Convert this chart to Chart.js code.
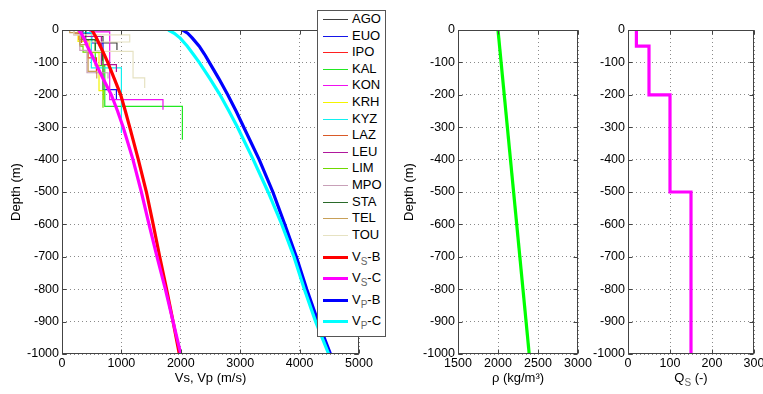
<!DOCTYPE html>
<html>
<head>
<meta charset="utf-8">
<script src="https://cdn.jsdelivr.net/npm/chart.js@4.4.0/dist/chart.umd.min.js"></script>
<style>
  body { margin:0; background:#fff; overflow:hidden; width:763px; height:394px; position:relative;
         font-family:'Liberation Sans', Arial, Helvetica, sans-serif; }
  canvas { position:absolute; top:0; }
  #legend { position:absolute; left:317px; top:10px; width:67px; height:325px; border:1px solid #555; background:#fff; }
  .row { position:absolute; left:0; width:67px; height:16px; line-height:16px; font-size:13px; color:#000; }
  .row b { position:absolute; left:5px; width:25px; display:block; }
  .row .t { position:absolute; left:34px; white-space:nowrap; }
  .sb { font-size:10px; position:relative; top:4px; color:#666; }
  #qtitle { position:absolute; left:651px; width:80px; top:370px; text-align:center; font-size:13px; line-height:16px; }
</style>
</head>
<body>
<canvas id="cv_vel" width="385" height="394" style="left:0;width:385px;height:394px"></canvas>
<canvas id="cv_rho" width="200" height="394" style="left:395px;width:200px;height:394px"></canvas>
<canvas id="cv_qs" width="185" height="394" style="left:585px;width:185px;height:394px"></canvas>
<div id="legend"></div>
<div id="qtitle">Q<span class="sb">S</span> (-)</div>
<script>
// station profiles: layer boundaries (m) and layer Vs (m/s)
const stationNames = ['AGO','EUO','IPO','KAL','KON','KRH','KYZ','LAZ','LEU','LIM','MPO','STA','TEL','TOU'];
const depthAGO = [0, 20, 40, 62];           const vsAGO = [400, 690, 925];
const depthEUO = [0, 10, 40, 184, 215];     const vsEUO = [350, 500, 690, 916];
const depthIPO = [0, 30, 86, 135];          const vsIPO = [280, 440, 580];
const depthKAL = [0, 30, 110, 236, 339];    const vsKAL = [350, 560, 720, 2027];
const depthKON = [0, 6, 215, 246];          const vsKON = [470, 803, 1700];
const depthKRH = [0, 35, 70, 187, 215];     const vsKRH = [270, 466, 623, 700];
const depthKYZ = [0, 8, 117, 318];          const vsKYZ = [330, 494, 1000];
const depthLAZ = [0, 12, 40];               const vsLAZ = [200, 330];
const depthLEU = [0, 20, 107, 130];         const vsLEU = [350, 663, 916];
const depthLIM = [0, 50, 68, 240];          const vsLIM = [300, 354, 690];
const depthMPO = [0, 15, 63, 132, 150];     const vsMPO = [200, 300, 421, 775];
const depthSTA = [0, 30, 66, 95];           const vsSTA = [400, 560, 680];
const depthTEL = [0, 8, 45, 128, 150];      const vsTEL = [130, 300, 440, 585];
const depthTOU = [0, 15, 37, 66, 148, 179]; const vsTOU = [200, 1140, 440, 1196, 1392];

// model curves
const depthModel = [0, 10, 25, 50, 75, 100, 150, 200, 250, 300, 400, 500, 600, 700, 800, 900, 1000];
const vsB = [500, 535, 580, 645, 710, 770, 880, 988, 1066, 1140, 1285, 1421, 1535, 1645, 1760, 1870, 1975];
const vsC = [280, 320, 370, 425, 495, 560, 690, 830, 935, 1030, 1195, 1336, 1465, 1600, 1740, 1870, 2000];
const vpB = [2025, 2115, 2195, 2310, 2400, 2480, 2640, 2790, 2930, 3060, 3320, 3550, 3750, 3945, 4120, 4310, 4520];
const vpC = [1790, 1890, 1990, 2110, 2210, 2310, 2490, 2660, 2810, 2955, 3220, 3470, 3700, 3905, 4080, 4270, 4490];

const depthRho = [0, 500, 1000];
const rho = [2000, 2195, 2390];

const depthQs = [0, 50, 200, 500, 1000];
const qs = [20, 50, 100, 150];

const stationDepths = [depthAGO, depthEUO, depthIPO, depthKAL, depthKON, depthKRH, depthKYZ, depthLAZ, depthLEU, depthLIM, depthMPO, depthSTA, depthTEL, depthTOU];
const stationVs = [vsAGO, vsEUO, vsIPO, vsKAL, vsKON, vsKRH, vsKYZ, vsLAZ, vsLEU, vsLIM, vsMPO, vsSTA, vsTEL, vsTOU];
const stationColors = ['#404040','#1515e8','#ff2020','#22e822','#f010f0','#f4f400','#10f0f0','#d95a28','#b0189c','#70d800','#c8a0b8','#2a6a2a','#c8a058','#e6e2c2'];

const toSteps = (bounds, vals) => {
    const pts = [];
    vals.forEach((v, i) => {
        pts.push({x: v, y: -bounds[i]});
        pts.push({x: v, y: -bounds[i + 1]});
    });
    return pts;
};
const toLine = (depths, vals) => vals.map((v, i) => ({x: v, y: -depths[i]}));

function $id(id) { return document.getElementById(id); }

Chart.defaults.font.family = "'Liberation Sans', Arial, Helvetica, sans-serif";
Chart.defaults.color = '#000';

const tickFont = {size: 12.5};
const titleFont = {size: 13};

// full box + inward tick marks like matlab axes
const boxPlugin = {
    id: 'box',
    afterDraw(chart) {
        const {ctx, chartArea: a, scales} = chart;
        ctx.save();
        ctx.strokeStyle = '#444';
        ctx.lineWidth = 1;
        const l = Math.round(a.left) + 0.5, r = Math.round(a.right) - 0.5;
        const t = Math.round(a.top) + 0.5, b = Math.round(a.bottom) - 0.5;
        ctx.strokeRect(l, t, r - l, b - t);
        ctx.beginPath();
        scales.x.ticks.forEach(tk => {
            const px = Math.round(scales.x.getPixelForValue(tk.value)) + 0.5;
            ctx.moveTo(px, b); ctx.lineTo(px, b - 4);
            ctx.moveTo(px, t); ctx.lineTo(px, t + 4);
        });
        scales.y.ticks.forEach(tk => {
            const py = Math.round(scales.y.getPixelForValue(tk.value)) + 0.5;
            ctx.moveTo(l, py); ctx.lineTo(l + 4, py);
            ctx.moveTo(r, py); ctx.lineTo(r - 4, py);
        });
        ctx.stroke();
        ctx.restore();
    }
};

const yAxis = (w, title, tpad) => ({
    type: 'linear', min: -1000, max: 0,
    afterFit: s => { s.width = w; },
    grid: {color: '#8a8a8a', drawTicks: false},
    border: {display: false, dash: [1, 3]},
    ticks: {stepSize: 100, padding: 3, font: tickFont, autoSkip: false, callback: v => String(v)},
    title: {display: !!title, text: title, font: titleFont, padding: {top: tpad, bottom: 0}}
});

const xAxis = (min, max, step, title) => ({
    type: 'linear', min: min, max: max,
    afterFit: s => { s.height = 40; },
    grid: {color: '#8a8a8a', drawTicks: false},
    border: {display: false, dash: [1, 3]},
    ticks: {stepSize: step, padding: 2, font: tickFont, autoSkip: false, maxRotation: 0, callback: v => String(v)},
    title: {display: !!title, text: title, font: titleFont, padding: {top: 0, bottom: 8.2}}
});

const baseOptions = (pad, xs, ys) => ({
    responsive: false,
    animation: false,
    layout: {padding: pad},
    plugins: {legend: {display: false}, tooltip: {enabled: false}},
    scales: {x: xs, y: ys}
});

// velocity panel
const velSets = [];
stationNames.forEach((n, i) => {
    velSets.push({label: n, data: toSteps(stationDepths[i], stationVs[i]), borderColor: stationColors[i], borderWidth: 1.2});
});
velSets.push({label: 'VS-B', data: toLine(depthModel, vsB), borderColor: '#ff0000', borderWidth: 3.2});
velSets.push({label: 'VS-C', data: toLine(depthModel, vsC), borderColor: '#ff00ff', borderWidth: 3.2});
velSets.push({label: 'VP-B', data: toLine(depthModel, vpB), borderColor: '#0000ff', borderWidth: 3.2});
velSets.push({label: 'VP-C', data: toLine(depthModel, vpC), borderColor: '#00ffff', borderWidth: 3.2});
velSets.forEach((d, i) => {
    d.showLine = true; d.pointRadius = 0; d.tension = 0; d.clip = 0; d.fill = false;
    d.order = velSets.length - i;
});

new Chart($id('cv_vel'), {
    type: 'scatter',
    data: {datasets: velSets},
    options: baseOptions({left: 0, top: 30, right: 26, bottom: 0},
        xAxis(0, 5000, 1000, 'Vs, Vp (m/s)'), yAxis(62, 'Depth (m)', 8.2)),
    plugins: [boxPlugin]
});

new Chart($id('cv_rho'), {
    type: 'scatter',
    data: {datasets: [{data: toLine(depthRho, rho), borderColor: '#00ff00', borderWidth: 3.2,
        showLine: true, pointRadius: 0, clip: 0}]},
    options: baseOptions({left: 0, top: 30, right: 17, bottom: 0},
        xAxis(1500, 3000, 500, 'ρ (kg/m³)'), yAxis(63, 'Depth (m)', 6.2)),
    plugins: [boxPlugin]
});

new Chart($id('cv_qs'), {
    type: 'scatter',
    data: {datasets: [{data: toSteps(depthQs, qs), borderColor: '#ff00ff', borderWidth: 3.2,
        showLine: true, pointRadius: 0, clip: 0}]},
    options: baseOptions({left: 0, top: 30, right: 16, bottom: 0},
        xAxis(0, 300, 100, ''), yAxis(43, '', 0)),
    plugins: [boxPlugin]
});

// legend drawn over the velocity axes
const legendCentres = stationNames.map((n, i) => 19 + i * 16.6).concat([256.5, 278, 299.5, 321]);
const legendLabels = stationNames.concat([
    'V<span class="sb">S</span>-B', 'V<span class="sb">S</span>-C',
    'V<span class="sb">P</span>-B', 'V<span class="sb">P</span>-C']);
const legendColors = stationColors.concat(['#ff0000', '#ff00ff', '#0000ff', '#00ffff']);
let html = '';
legendLabels.forEach((lab, i) => {
    const lw = i < stationNames.length ? 1 : 3;
    const top = Math.round(legendCentres[i] - 11 - 8);
    html += '<div class="row" style="top:' + top + 'px"><b style="top:' + Math.round(8 - lw / 2) + 'px;height:' + lw +
        'px;background-color:' + legendColors[i] + '"></b><span class="t">' + lab + '</span></div>';
});
$id('legend').innerHTML = html;
</script>
</body>
</html>
